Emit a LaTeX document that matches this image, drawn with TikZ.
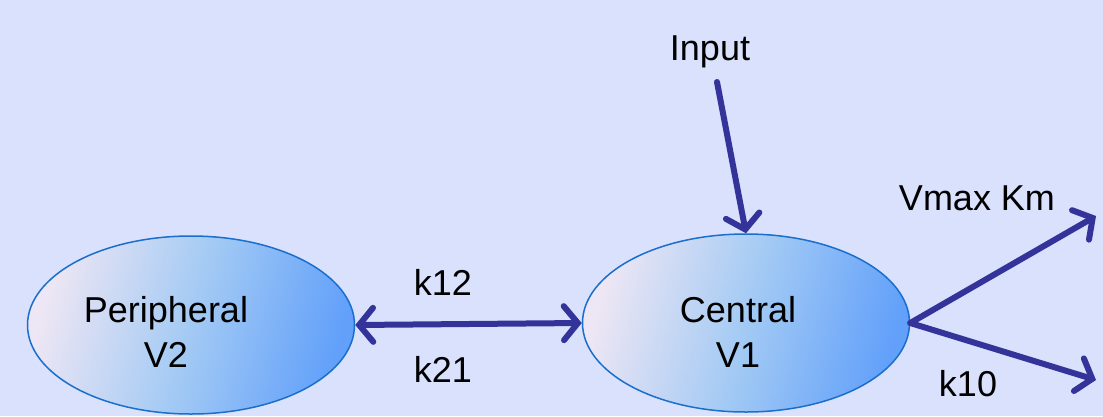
\documentclass[tikz,border=0pt]{standalone}
\usepackage{fontspec}
\setmainfont{Liberation Sans}
\usetikzlibrary{arrows.meta,shapes.geometric}
\definecolor{bg}{HTML}{D9E1FD}
\definecolor{arr}{HTML}{333399}
\definecolor{edge}{HTML}{1A6FCC}
\definecolor{shadeL}{HTML}{EDE6F4}
\definecolor{shadeM}{HTML}{A3CAF4}
\definecolor{shadeR}{HTML}{62A0FA}
\tikzset{
  comp/.style={ellipse, draw=edge, line width=1.5pt, minimum width=327pt, minimum height=178pt,
    left color=shadeL, right color=shadeR, middle color=shadeM, shading angle=75, inner sep=0pt},
  lab/.style={font=\fontsize{36}{45}\selectfont, inner sep=0pt, align=center},
  flow/.style={draw=arr, line width=6pt, line cap=round,
    -{Straight Barb[length=14pt, width=34pt, line cap=round]}},
  flow2/.style={draw=arr, line width=6pt, line cap=round,
    {Straight Barb[length=14pt, width=34pt, line cap=round]}-{Straight Barb[length=14pt, width=34pt, line cap=round]}}
}
\begin{document}
\begin{tikzpicture}[x=1pt,y=-1pt]
\fill[bg] (0,0) rectangle (1103,416);
\useasboundingbox (0,0) rectangle (1103,416);
\node[comp] (per) at (191,325) {};
\node[comp] (cen) at (746,323) {};
\node[lab] (perT) at (166,332) {Peripheral\\V2};
\node[lab] (cenT) at (738,332) {Central\\V1};
\node[lab] (in) at (710,52) {Input};
\node[lab] (vk) at (977,198) {Vmax Km};
\node[lab] (k10) at (968,384) {k10};
\node[lab] (k12) at (443,282) {k12};
\node[lab] (k21) at (443,369) {k21};
\coordinate (inS) at (717,82);
\coordinate (vT) at (1096,216);
\coordinate (kT) at (1096,380);
\draw[flow2] (per.east) -- (cen.west);
\draw[flow] (inS) -- (cen.north);
\draw[flow] (cen.east) -- (vT);
\draw[flow] (cen.east) -- (kT);
\end{tikzpicture}
\end{document}
